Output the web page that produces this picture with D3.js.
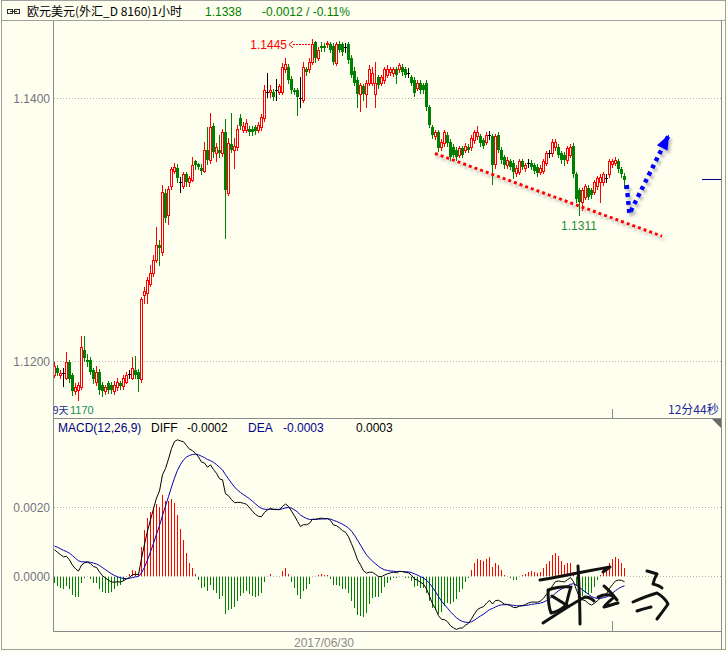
<!DOCTYPE html>
<html><head><meta charset="utf-8">
<script src="https://cdn.jsdelivr.net/npm/d3@7/dist/d3.min.js"></script>
<style>html,body{margin:0;padding:0;background:#fffff0;}svg{display:block;}</style>
</head><body>
<svg id="chart" width="728" height="652"></svg>
<script>
// ---------- DATA ----------
const opens=[
1.1189,1.1195,1.1189,1.1191,1.1187,1.1199,1.1189,1.1177,1.1178,1.1180,
1.1208,1.1201,1.1201,1.1193,1.1184,1.1192,1.1182,1.1177,1.1183,1.1182,
1.1177,1.1180,1.1183,1.1181,1.1184,1.1190,1.1187,1.1193,1.1192,1.1186,
1.1250,1.1252,1.1259,1.1267,1.1277,1.1288,1.1283,1.1328,1.1311,1.1333,
1.1345,1.1347,1.1336,1.1333,1.1342,1.1336,1.1338,1.1352,1.1350,1.1347,
1.1345,1.1361,1.1353,1.1379,1.1358,1.1361,1.1358,1.1374,1.1328,1.1365,
1.1361,1.1363,1.1385,1.1376,1.1376,1.1377,1.1377,1.1378,1.1376,1.1378,
1.1385,1.1405,1.1405,1.1405,1.1406,1.1405,1.1405,1.1422,1.1424,1.1415,
1.1406,1.1406,1.1400,1.1399,1.1422,1.1422,1.1428,1.1443,1.1431,1.1440,
1.1440,1.1441,1.1441,1.1440,1.1427,1.1441,1.1441,1.1439,1.1441,1.1431,
1.1421,1.1414,1.1403,1.1409,1.1403,1.1412,1.1412,1.1403,1.1416,1.1412,
1.1414,1.1418,1.1420,1.1419,1.1422,1.1422,1.1424,1.1422,1.1419,1.1416,
1.1414,1.1408,1.1412,1.1410,1.1412,1.1393,1.1378,1.1371,1.1374,1.1363,
1.1366,1.1372,1.1367,1.1363,1.1361,1.1357,1.1362,1.1361,1.1363,1.1363,
1.1368,1.1371,1.1371,1.1368,1.1367,1.1372,1.1371,1.1350,1.1372,1.1361,
1.1355,1.1349,1.1352,1.1351,1.1343,1.1344,1.1352,1.1347,1.1351,1.1351,
1.1349,1.1348,1.1344,1.1345,1.1351,1.1358,1.1358,1.1363,1.1363,1.1358,
1.1357,1.1353,1.1357,1.1364,1.1342,1.1330,1.1321,1.1325,1.1332,1.1330,
1.1329,1.1333,1.1336,1.1336,1.1339,1.1342,1.1350,1.1351,1.1352,1.1346,1.1341];
const highs=[
1.1199,1.1197,1.1193,1.1195,1.1207,1.1201,1.1191,1.1183,1.1184,1.1219,
1.1219,1.1205,1.1203,1.1195,1.1196,1.1194,1.1184,1.1182,1.1185,1.1184,
1.1185,1.1187,1.1185,1.1189,1.1192,1.1193,1.1203,1.1204,1.1194,1.1249,
1.1256,1.1264,1.1273,1.1281,1.1302,1.1292,1.1334,1.1331,1.1333,1.1348,
1.1351,1.1350,1.1340,1.1344,1.1344,1.1341,1.1355,1.1353,1.1351,1.1350,
1.1367,1.1378,1.1389,1.1381,1.1366,1.1372,1.1377,1.1384,1.1370,1.1389,
1.1370,1.1380,1.1388,1.1382,1.1384,1.1379,1.1379,1.1380,1.1382,1.1388,
1.1410,1.1419,1.1410,1.1407,1.1415,1.1411,1.1427,1.1431,1.1426,1.1417,
1.1408,1.1408,1.1416,1.1428,1.1424,1.1431,1.1445,1.1444,1.1439,1.1443,
1.1442,1.1444,1.1443,1.1442,1.1443,1.1444,1.1443,1.1442,1.1443,1.1433,
1.1424,1.1416,1.1412,1.1411,1.1414,1.1425,1.1424,1.1428,1.1418,1.1418,
1.1424,1.1425,1.1424,1.1424,1.1424,1.1427,1.1426,1.1424,1.1423,1.1418,
1.1416,1.1414,1.1414,1.1412,1.1414,1.1395,1.1380,1.1376,1.1376,1.1369,
1.1376,1.1374,1.1369,1.1365,1.1363,1.1364,1.1364,1.1366,1.1365,1.1372,
1.1376,1.1379,1.1373,1.1370,1.1374,1.1375,1.1373,1.1373,1.1374,1.1363,
1.1357,1.1355,1.1354,1.1353,1.1349,1.1354,1.1354,1.1351,1.1354,1.1353,
1.1351,1.1350,1.1349,1.1354,1.1360,1.1361,1.1369,1.1369,1.1365,1.1360,
1.1359,1.1364,1.1365,1.1366,1.1344,1.1332,1.1332,1.1335,1.1334,1.1332,
1.1338,1.1341,1.1342,1.1344,1.1342,1.1354,1.1354,1.1355,1.1354,1.1348,1.1343];
const lows=[
1.1188,1.1189,1.1187,1.1181,1.1186,1.1184,1.1174,1.1175,1.1170,1.1179,
1.1200,1.1196,1.1190,1.1183,1.1182,1.1175,1.1173,1.1175,1.1176,1.1176,
1.1175,1.1178,1.1179,1.1179,1.1183,1.1187,1.1186,1.1187,1.1177,1.1184,
1.1244,1.1244,1.1257,1.1265,1.1275,1.1273,1.1281,1.1306,1.1304,1.1331,
1.1343,1.1336,1.1329,1.1332,1.1333,1.1333,1.1337,1.1346,1.1346,1.1342,
1.1344,1.1350,1.1351,1.1355,1.1352,1.1355,1.1356,1.1294,1.1326,1.1359,
1.1347,1.1361,1.1377,1.1374,1.1374,1.1372,1.1372,1.1373,1.1374,1.1376,
1.1383,1.1401,1.1401,1.1399,1.1399,1.1403,1.1403,1.1420,1.1412,1.1404,
1.1403,1.1387,1.1393,1.1397,1.1418,1.1420,1.1426,1.1428,1.1429,1.1436,
1.1436,1.1439,1.1435,1.1426,1.1425,1.1435,1.1433,1.1435,1.1427,1.1416,
1.1410,1.1393,1.1390,1.1399,1.1393,1.1410,1.1410,1.1393,1.1408,1.1410,
1.1412,1.1416,1.1418,1.1417,1.1412,1.1420,1.1418,1.1416,1.1416,1.1410,
1.1402,1.1406,1.1404,1.1404,1.1391,1.1378,1.1370,1.1369,1.1360,1.1361,
1.1364,1.1364,1.1353,1.1355,1.1353,1.1355,1.1355,1.1359,1.1359,1.1361,
1.1366,1.1369,1.1364,1.1362,1.1365,1.1369,1.1335,1.1347,1.1359,1.1351,
1.1347,1.1347,1.1346,1.1339,1.1341,1.1342,1.1346,1.1345,1.1348,1.1346,
1.1343,1.1341,1.1342,1.1343,1.1349,1.1355,1.1356,1.1361,1.1355,1.1351,
1.1349,1.1351,1.1355,1.1340,1.1321,1.1311,1.1315,1.1323,1.1323,1.1324,
1.1327,1.1331,1.1321,1.1334,1.1336,1.1340,1.1348,1.1349,1.1344,1.1340,1.1332];
const closes=[
1.1196,1.1191,1.1191,1.1191,1.1199,1.1186,1.1177,1.1180,1.1182,1.1211,
1.1202,1.1199,1.1192,1.1186,1.1192,1.1178,1.1177,1.1180,1.1178,1.1178,
1.1182,1.1184,1.1181,1.1187,1.1189,1.1190,1.1195,1.1189,1.1186,1.1247,
1.1253,1.1262,1.1267,1.1277,1.1288,1.1286,1.1329,1.1309,1.1331,1.1346,
1.1348,1.1339,1.1336,1.1342,1.1336,1.1339,1.1349,1.1349,1.1348,1.1345,
1.1361,1.1353,1.1378,1.1359,1.1363,1.1358,1.1374,1.1330,1.1366,1.1361,
1.1364,1.1377,1.1379,1.1379,1.1381,1.1374,1.1374,1.1375,1.1380,1.1386,
1.1406,1.1405,1.1406,1.1401,1.1406,1.1409,1.1424,1.1426,1.1414,1.1406,
1.1405,1.1401,1.1400,1.1424,1.1420,1.1428,1.1441,1.1431,1.1437,1.1438,
1.1438,1.1442,1.1437,1.1428,1.1441,1.1437,1.1435,1.1439,1.1429,1.1418,
1.1412,1.1403,1.1410,1.1403,1.1412,1.1422,1.1419,1.1412,1.1410,1.1416,
1.1422,1.1422,1.1422,1.1422,1.1418,1.1425,1.1420,1.1418,1.1419,1.1412,
1.1404,1.1412,1.1406,1.1406,1.1393,1.1380,1.1372,1.1374,1.1362,1.1367,
1.1374,1.1366,1.1355,1.1357,1.1355,1.1362,1.1357,1.1364,1.1361,1.1370,
1.1374,1.1374,1.1366,1.1364,1.1372,1.1372,1.1349,1.1371,1.1361,1.1353,
1.1349,1.1353,1.1348,1.1344,1.1347,1.1352,1.1348,1.1349,1.1351,1.1348,
1.1345,1.1343,1.1347,1.1352,1.1358,1.1358,1.1367,1.1367,1.1357,1.1353,
1.1353,1.1362,1.1363,1.1342,1.1323,1.1321,1.1330,1.1333,1.1325,1.1326,
1.1336,1.1339,1.1340,1.1342,1.1339,1.1352,1.1352,1.1353,1.1346,1.1342,1.1338];
const priceTicks=[1.12,1.14];
const macdTicks=[0,0.002];
const macdSeed=[1.1193,1.1185,0.0009];
const sessionTickIndex=[186];
const dateLabel="2017/06/30", dateLabelIndex=90;
const titleText="欧元美元(外汇_D 8160)1小时";
const lastPriceText="1.1338", changeText="-0.0012 / -0.11%";
const macdLabels=["MACD(12,26,9)","DIFF","-0.0002","DEA","-0.0003","0.0003"];
const trendLine=[[127,1.1358],[202.7,1.1295]];
const blueArrow=[[190.9,1.1334],[191.8,1.1312],[204.7,1.1371]];

// ---------- LAYOUT ----------
const BG="#fffff0", RED="#ff0000", GREEN="#008000", AX="#8a8a8a";
const svg=d3.select("#chart");
const defs=svg.append("defs");
const sh=defs.append("filter").attr("id","sh").attr("x","-20%").attr("y","-20%").attr("width","140%").attr("height","140%");
sh.append("feDropShadow").attr("dx",2).attr("dy",3).attr("stdDeviation",1.6).attr("flood-color","#777").attr("flood-opacity",0.55);
defs.append("clipPath").attr("id","cm").append("rect").attr("x",54).attr("y",21).attr("width",666).attr("height",397);
defs.append("clipPath").attr("id","cd").append("rect").attr("x",54).attr("y",419).attr("width",666).attr("height",212);

svg.append("rect").attr("width",728).attr("height",652).attr("fill",BG);

const x=d3.scaleLinear().domain([0,190]).range([54,624]);
const y=d3.scaleLinear().domain([1.12,1.14]).range([361,98.3]);
const ym=d3.scaleLinear().domain([0,0.002]).range([576,507.3]);

// frame
const fr=svg.append("g").attr("shape-rendering","crispEdges").attr("fill","none");
fr.append("rect").attr("x",1.5).attr("y",0.5).attr("width",724).attr("height",649).attr("stroke","#a0a0a0");
fr.append("line").attr("x1",2).attr("x2",726).attr("y1",20.5).attr("y2",20.5).attr("stroke","#a0a0a0");
fr.append("line").attr("x1",53.5).attr("x2",53.5).attr("y1",21).attr("y2",632).attr("stroke",AX);
fr.append("line").attr("x1",721.5).attr("x2",721.5).attr("y1",21).attr("y2",650).attr("stroke",AX);
fr.append("line").attr("x1",53).attr("x2",722).attr("y1",418.5).attr("y2",418.5).attr("stroke",AX);
fr.append("line").attr("x1",53).attr("x2",722).attr("y1",631.5).attr("y2",631.5).attr("stroke",AX);

// grid + labels
const gl=svg.append("g").attr("shape-rendering","crispEdges");
priceTicks.forEach(p=>{
  const yy=Math.round(y(p))+0.5;
  gl.append("line").attr("x1",54).attr("x2",721).attr("y1",yy).attr("y2",yy).attr("stroke","#b4b4b4").attr("stroke-dasharray","1,2");
  svg.append("text").attr("x",50).attr("y",yy+4).attr("text-anchor","end").attr("font-family","Liberation Sans, Arial, sans-serif").attr("font-size",12).attr("fill","#737380").text(d3.format(".4f")(p));
});
macdTicks.forEach(p=>{
  const yy=Math.round(ym(p))+0.5;
  gl.append("line").attr("x1",54).attr("x2",721).attr("y1",yy).attr("y2",yy).attr("stroke","#b4b4b4").attr("stroke-dasharray","1,2");
  svg.append("text").attr("x",50).attr("y",yy+4).attr("text-anchor","end").attr("font-family","Liberation Sans, Arial, sans-serif").attr("font-size",12).attr("fill","#737380").text(d3.format(".4f")(p));
});
sessionTickIndex.forEach(i=>{
  const xx=Math.round(x(i))+0.5;
  gl.append("line").attr("x1",xx).attr("x2",xx).attr("y1",409).attr("y2",418).attr("stroke",AX);
  gl.append("line").attr("x1",xx).attr("x2",xx).attr("y1",621).attr("y2",631).attr("stroke",AX);
});

// ---------- CANDLES ----------
const cg=svg.append("g").attr("clip-path","url(#cm)").attr("shape-rendering","crispEdges");
closes.forEach((c,i)=>{
  const o=opens[i],h=highs[i],l=lows[i];
  const k=Math.round(x(i));
  const yH=Math.round(y(h)), yL=Math.round(y(l));
  const yT=Math.round(y(Math.max(o,c))), yB=Math.round(y(Math.min(o,c)));
  if(c>o){
    if(yT>yH) cg.append("line").attr("x1",k+.5).attr("x2",k+.5).attr("y1",yH).attr("y2",yT).attr("stroke",RED);
    if(yL>yB) cg.append("line").attr("x1",k+.5).attr("x2",k+.5).attr("y1",yB).attr("y2",yL+1).attr("stroke",RED);
    cg.append("rect").attr("x",k-0.5).attr("y",yT+0.5).attr("width",2).attr("height",Math.max(yB-yT,1)).attr("fill",BG).attr("stroke",RED);
  } else if(c<o){
    cg.append("line").attr("x1",k+.5).attr("x2",k+.5).attr("y1",yH).attr("y2",yL+1).attr("stroke",GREEN);
    cg.append("rect").attr("x",k-1).attr("y",yT).attr("width",3).attr("height",Math.max(yB-yT,1)).attr("fill",GREEN);
  } else {
    cg.append("line").attr("x1",k+.5).attr("x2",k+.5).attr("y1",yH).attr("y2",yL+1).attr("stroke","#000");
    cg.append("line").attr("x1",k-1).attr("x2",k+2).attr("y1",yT+.5).attr("y2",yT+.5).attr("stroke","#000");
  }
});

// ---------- MACD ----------
let e12=macdSeed[0], e26=macdSeed[1], dea=macdSeed[2];
const diffS=[], deaS=[], histS=[];
closes.forEach(c=>{
  e12+= (c-e12)*2/13; e26+=(c-e26)*2/27;
  const d=e12-e26; dea+=(d-dea)*2/10;
  diffS.push(d); deaS.push(dea); histS.push(2*(d-dea));
});
const mg=svg.append("g").attr("clip-path","url(#cd)");
const hg=mg.append("g").attr("shape-rendering","crispEdges");
histS.forEach((v,i)=>{
  const k=Math.round(x(i))+0.5;
  const y0=Math.round(ym(0)), y1=Math.round(ym(v));
  if(y0===y1) return;
  hg.append("line").attr("x1",k).attr("x2",k).attr("y1",y0+(v>0?0:1)).attr("y2",y1).attr("stroke",v>0?RED:GREEN);
});
const ln=d3.line().x((d,i)=>x(i)+0.5).y(d=>ym(d));
mg.append("path").attr("d",ln(deaS)).attr("fill","none").attr("stroke","#0000b4").attr("stroke-width",1);
mg.append("path").attr("d",ln(diffS)).attr("fill","none").attr("stroke","#000").attr("stroke-width",1);

// ---------- TEXTS ----------
const LAT="Liberation Sans, Arial, sans-serif", CJK="'Noto Sans CJK SC', sans-serif";
// title icon
const ic=svg.append("g").attr("shape-rendering","crispEdges").attr("fill","none").attr("stroke","#303030");
ic.append("rect").attr("x",7.5).attr("y",9.5).attr("width",5).attr("height",4);
ic.append("rect").attr("x",14.5).attr("y",9.5).attr("width",5).attr("height",4);
ic.append("line").attr("x1",10).attr("x2",17).attr("y1",11.5).attr("y2",11.5);
svg.append("text").attr("x",27).attr("y",16).attr("font-family",CJK).attr("font-size",12).attr("fill","#000").text(titleText);
svg.append("text").attr("x",205).attr("y",16).attr("font-family",LAT).attr("font-size",12).attr("fill",GREEN).text(lastPriceText);
svg.append("text").attr("x",262).attr("y",16).attr("font-family",LAT).attr("font-size",12).attr("fill",GREEN).text(changeText);

svg.append("text").attr("x",53).attr("y",414).attr("font-family",CJK).attr("font-size",10).attr("fill","#1a2a9a").text("9天");
svg.append("text").attr("x",70).attr("y",414).attr("font-family",LAT).attr("font-size",11).attr("fill","#1a8a5a").text("1170");
svg.append("text").attr("x",668).attr("y",414).attr("font-family",CJK).attr("font-size",12).attr("fill","#1a2a9a").text("12分44秒");

const mt=svg.append("g").attr("font-family",LAT).attr("font-size",12);
mt.append("text").attr("x",58).attr("y",432).attr("fill","#000080").text(macdLabels[0]);
mt.append("text").attr("x",151).attr("y",432).attr("fill","#000").text(macdLabels[1]);
mt.append("text").attr("x",187).attr("y",432).attr("fill","#000").text(macdLabels[2]);
mt.append("text").attr("x",248).attr("y",432).attr("fill","#000090").text(macdLabels[3]);
mt.append("text").attr("x",283).attr("y",432).attr("fill","#000090").text(macdLabels[4]);
mt.append("text").attr("x",356).attr("y",432).attr("fill","#000").text(macdLabels[5]);
svg.append("path").attr("d","M712,419 L721,419 L721,428 Z").attr("fill","#6a6a6a");

svg.append("text").attr("x",x(dateLabelIndex)).attr("y",647).attr("text-anchor","middle").attr("font-family",LAT).attr("font-size",12).attr("fill","#8a8a8a").text(dateLabel);

// last price marker
const lastY=Math.round(y(closes[closes.length-1]))-0.5;
svg.append("line").attr("x1",702).attr("x2",721).attr("y1",lastY).attr("y2",lastY).attr("stroke","#000080").attr("shape-rendering","crispEdges");

// max / min annotations
const iMax=d3.maxIndex(highs), iMin=d3.minIndex(lows.slice(100))+100;
const yMax=y(highs[iMax]);
svg.append("text").attr("x",x(iMax)-25).attr("y",yMax+10).attr("text-anchor","end").attr("font-family",LAT).attr("font-size",12).attr("fill",RED).text(d3.format(".4f")(highs[iMax]));
svg.append("line").attr("x1",x(iMax)-19).attr("x2",x(iMax)-2).attr("y1",Math.round(yMax+5)+.5).attr("y2",Math.round(yMax+5)+.5).attr("stroke",RED).attr("stroke-dasharray","2,1").attr("shape-rendering","crispEdges");
svg.append("path").attr("d",`M${x(iMax)-19},${Math.round(yMax+2)} L${x(iMax)-23},${Math.round(yMax+5)+.5} L${x(iMax)-19},${Math.round(yMax+8)+1}`).attr("fill","none").attr("stroke",RED);
svg.append("text").attr("x",x(iMin)).attr("y",y(lows[iMin])+15).attr("text-anchor","middle").attr("font-family",LAT).attr("font-size",12).attr("fill","#1f8a3a").text(d3.format(".4f")(lows[iMin]));

// trend line and arrow
const al=d3.line().x(d=>x(d[0])).y(d=>y(d[1]));
svg.append("path").attr("d",al(trendLine)).attr("fill","none").attr("stroke",RED).attr("stroke-width",3).attr("stroke-dasharray","3,3").attr("filter","url(#sh)");
const ag=svg.append("g").attr("filter","url(#sh)");
ag.append("path").attr("d",al(blueArrow)).attr("fill","none").attr("stroke","#0000ff").attr("stroke-width",4.5).attr("stroke-dasharray","4,4");
const tip=blueArrow[2], prev=blueArrow[1];
const tx=x(tip[0]), ty=y(tip[1]);
const ang=Math.atan2(ty-y(prev[1]), tx-x(prev[0]));
const L=13, Wd=6;
const bx=tx-L*Math.cos(ang), by=ty-L*Math.sin(ang);
ag.append("path").attr("d",`M${tx+2*Math.cos(ang)},${ty+2*Math.sin(ang)} L${bx+Wd*Math.sin(ang)},${by-Wd*Math.cos(ang)} L${bx-Wd*Math.sin(ang)},${by+Wd*Math.cos(ang)} Z`).attr("fill","#0000ff");

// signature (decoration)
const sg=svg.append("g").attr("fill","none").attr("stroke","#111").attr("stroke-width",3).attr("stroke-linecap","round").attr("stroke-linejoin","round");
["M540,580 C555,578 575,573 610,567 L603,572",
 "M578,566 C579,585 580,605 580,624",
 "M548,590 C548,600 549,608 551,613 C556,612 562,609 566,605 C568,598 569,592 571,587 C562,586 554,588 548,590",
 "M543,623 C560,612 575,602 585,597 C589,597 592,599 594,601",
 "M552,596 L568,606",
 "M598,597 C604,594 611,594 614,597 C610,601 606,604 604,607 C609,606 613,604 618,603",
 "M604,586 C609,590 613,595 617,600",
 "M647,571 C651,572 654,573 657,574 C655,577 654,580 653,584 C657,585 660,586 662,588",
 "M633,602 C642,598 650,595 657,593 C662,596 666,600 668,604 C664,610 660,615 657,619",
 "M637,611 C642,609 647,608 651,607"
].forEach(d=>sg.append("path").attr("d",d));
</script>
</body></html>
